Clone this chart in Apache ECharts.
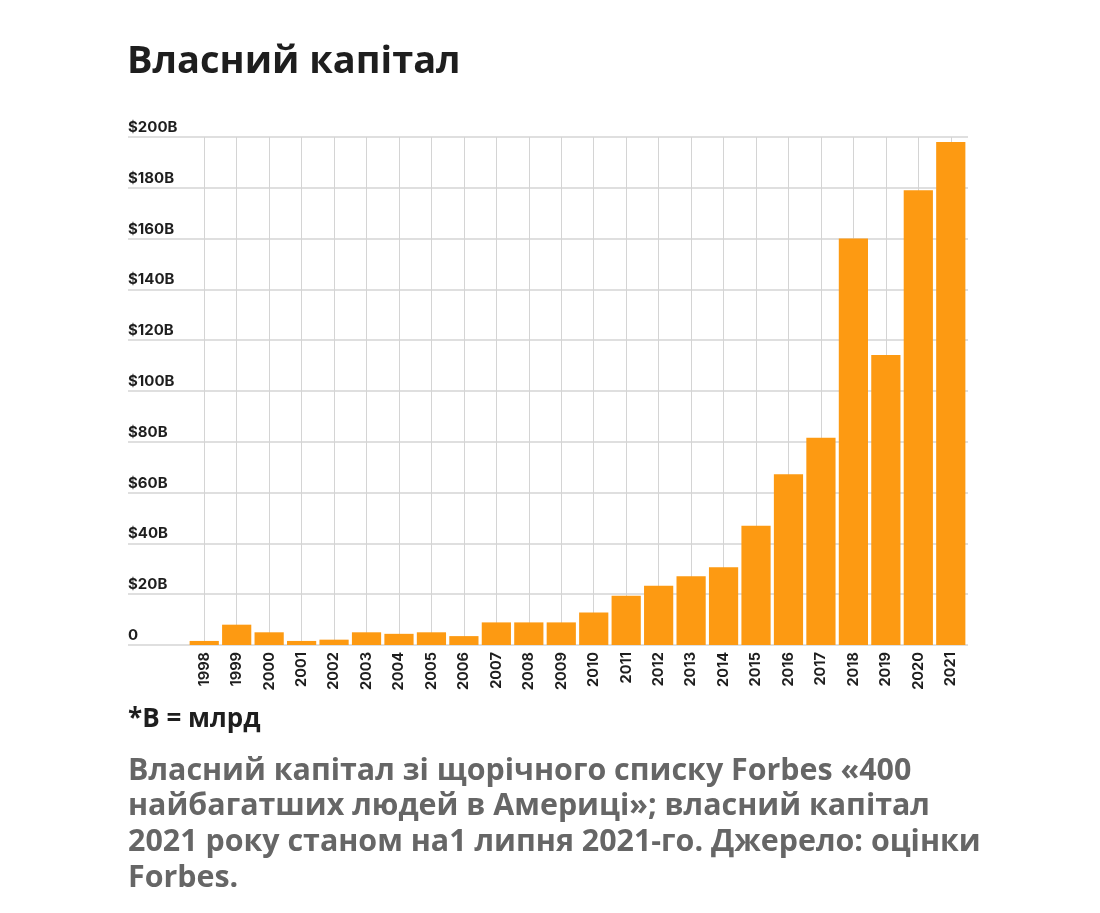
<!DOCTYPE html>
<html>
<head>
<meta charset="utf-8">
<script src="https://cdn.jsdelivr.net/npm/echarts@6/dist/echarts.min.js"></script>
<style>
  html, body { margin: 0; padding: 0; background: #fff; }
  #chart { width: 1100px; height: 913px; }
</style>
</head>
<body>
<div id="chart"></div>
<script>
// роки та власний капітал, млрд $
var years = ['1998', '1999', '2000', '2001', '2002', '2003', '2004', '2005', '2006', '2007', '2008', '2009',
             '2010', '2011', '2012', '2013', '2014', '2015', '2016', '2017', '2018', '2019', '2020', '2021'];
var netWorth = [1.6, 8, 5, 1.6, 2.1, 5, 4.4, 5, 3.5, 8.9, 8.9, 8.9,
                12.8, 19.4, 23.3, 27.1, 30.6, 46.9, 67.2, 81.6, 160, 114.2, 179, 198];
var tickLabels = { 0: '0', 20: '$20B', 40: '$40B', 60: '$60B', 80: '$80B', 100: '$100B',
                   120: '$120B', 140: '$140B', 160: '$160B', 180: '$180B', 200: '$200B' };

var title = 'Власний капітал';
var note = '*B = млрд';
var captionLines = [
    'Власний капітал зі щорічного списку Forbes «400',
    'найбагатших людей в Америці»; власний капітал',
    '2021 року станом на1 липня 2021-го. Джерело: оцінки',
    'Forbes.'
];

var chart = echarts.init(document.getElementById('chart'));

var graphics = [
    {
        type: 'text', left: 127, top: 43,
        style: { text: title, fill: '#1e1e1e', font: 'bold 38px "Open Sans"' }
    },
    {
        type: 'text', left: 128, top: 707,
        style: { text: note, fill: '#1e1e1e', font: 'bold 26px "Open Sans"' }
    }
];
for (var i = 0; i < captionLines.length; i++) {
    graphics.push({
        type: 'text', left: 128, top: 756 + i * 35.8,
        style: { text: captionLines[i], fill: '#666666', font: 'bold 30.4px "Open Sans"' }
    });
}

var option = {
    backgroundColor: '#ffffff',
    animation: false,
    graphic: graphics,
    grid: [
        { left: 128, right: 132, top: 137, bottom: 268 },
        { left: 188, right: 133, top: 137, bottom: 268 }
    ],
    xAxis: [
        { type: 'value', gridIndex: 0, show: false, min: 0, max: 1 },
        {
            type: 'category',
            gridIndex: 1,
            data: years,
            axisLine: { show: false },
            axisTick: { show: false },
            axisLabel: {
                rotate: 90,
                margin: 7,
                color: '#1e1e1e',
                fontFamily: 'Inter',
                fontWeight: 'bold',
                fontSize: 14.5
            },
            splitLine: {
                show: true,
                alignWithLabel: true,
                lineStyle: { color: '#d4d4d4', width: 1 }
            }
        }
    ],
    yAxis: [
        {
            type: 'value',
            gridIndex: 0,
            min: 0,
            max: 200,
            interval: 20,
            axisLine: { show: false },
            axisTick: { show: false },
            axisLabel: {
                inside: true,
                margin: 0,
                verticalAlign: 'bottom',
                padding: [0, 0, 2, 0],
                color: '#1e1e1e',
                fontFamily: 'Inter',
                fontWeight: 'bold',
                fontSize: 15
            },
            splitLine: { lineStyle: { color: '#d4d4d4', width: 1.5 } }
        },
        { type: 'value', gridIndex: 1, show: false, min: 0, max: 200 }
    ],
    series: [
        {
            type: 'bar',
            xAxisIndex: 1,
            yAxisIndex: 1,
            data: netWorth,
            barCategoryGap: '10%',
            itemStyle: { color: '#fd9a12' }
        }
    ]
};
option.yAxis[0].axisLabel.formatter = function (v) { return tickLabels[v]; };

chart.setOption(option);
</script>
</body>
</html>
